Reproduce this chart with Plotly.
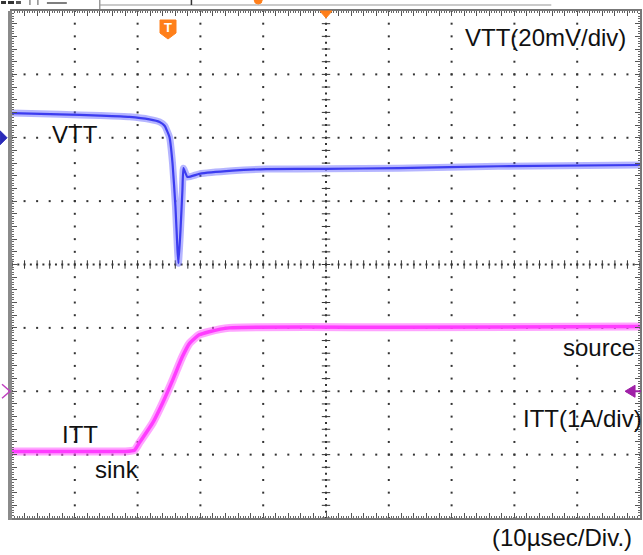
import plotly.graph_objects as go

# ---- scope settings ----
TIME_DIV_US = 10          # horizontal scale, µs per division
VTT_MV_DIV = 20           # channel 1 scale
ITT_A_DIV = 1             # channel 2 scale
VTT_OFFSET_DIV = 2        # channel 1 ground marker position (divisions)
ITT_OFFSET_DIV = -2       # channel 2 ground marker position (divisions)

# ---- captured waveforms ----
vtt_t_us = [0, 7.6, 14.0, 18.7, 21.9, 23.5, 24.3, 25.08, 25.56, 26.03, 26.35, 26.51,
            26.83, 27.14, 27.30, 27.94, 29.84, 35.08, 40.48, 50.0, 61.6, 77.5, 100.0]
vtt_mv = [7.8, 7.4, 7.0, 6.6, 5.8, 5.0, 3.8, 0.2, -8.0, -21.8, -35.4, -39.6,
          -29.2, -16.4, -9.6, -12.4, -11.4, -10.4, -9.9, -9.8, -9.6, -9.0, -8.6]

itt_t_us = [0, 10.0, 18.0, 19.5, 20.3, 22.4, 24.0, 25.6, 27.1, 28.3, 29.8, 31.4, 34.6, 60.0, 100.0]
itt_a = [-0.95, -0.95, -0.95, -0.93, -0.81, -0.50, -0.18, 0.18, 0.54, 0.76, 0.89, 0.94, 1.00, 1.01, 1.02]

vtt_div = [v / VTT_MV_DIV + VTT_OFFSET_DIV for v in vtt_mv]
itt_div = [a / ITT_A_DIV + ITT_OFFSET_DIV for a in itt_a]

N_HDIV, N_VDIV, N_SUB = 10, 8, 5
X_MAX = N_HDIV * TIME_DIV_US
Y_HALF = N_VDIV / 2

# plot area in pixels (used to place screen decorations outside the graticule)
W, H = 643, 555
ML, MR, MT, MB = 12, 1, 11, 37
PW, PH = W - ML - MR, H - MT - MB


def px(xp):
    return (xp - ML) / PW


def py(yp):
    return (H - MB - yp) / PH


def div_to_paper_y(d):
    return (d + Y_HALF) / N_VDIV


fig = go.Figure()

# ---- graticule dots ----
gx, gy = [], []
for i in range(1, N_HDIV):
    if i == N_HDIV // 2:
        continue
    for k in range(N_VDIV * N_SUB + 1):
        gx.append(i * TIME_DIV_US)
        gy.append(-Y_HALF + k / N_SUB)
for j in range(1, N_VDIV):
    if j == N_VDIV // 2:
        continue
    for k in range(N_HDIV * N_SUB + 1):
        gx.append(k * TIME_DIV_US / N_SUB)
        gy.append(-Y_HALF + j)
fig.add_trace(go.Scatter(x=gx, y=gy, mode="markers", hoverinfo="skip",
                         marker=dict(symbol="square", size=2, color="#333333", line_width=0)))

# centre cross with tick marks
cx = [X_MAX / 2] * (N_VDIV * N_SUB * 2 + 1)
cy = [-Y_HALF + k / (2 * N_SUB) for k in range(N_VDIV * N_SUB * 2 + 1)]
fig.add_trace(go.Scatter(x=cx, y=cy, mode="markers", hoverinfo="skip",
                         marker=dict(symbol="square", size=2, color="#333333", line_width=0)))
fig.add_trace(go.Scatter(x=[X_MAX / 2] * (N_VDIV * N_SUB + 1),
                         y=[-Y_HALF + k / N_SUB for k in range(N_VDIV * N_SUB + 1)],
                         mode="markers", hoverinfo="skip",
                         marker=dict(symbol="line-ew", size=6, line=dict(width=1, color="#333333"))))
hx = [k * TIME_DIV_US / (2 * N_SUB) for k in range(N_HDIV * N_SUB * 2 + 1)]
fig.add_trace(go.Scatter(x=hx, y=[0] * len(hx), mode="markers", hoverinfo="skip",
                         marker=dict(symbol="square", size=2, color="#333333", line_width=0)))
fig.add_trace(go.Scatter(x=[k * TIME_DIV_US / N_SUB for k in range(N_HDIV * N_SUB + 1)],
                         y=[0] * (N_HDIV * N_SUB + 1), mode="markers", hoverinfo="skip",
                         marker=dict(symbol="line-ns", size=6, line=dict(width=1, color="#333333"))))

# ---- waveforms (wide halo for the noise band, core line on top) ----
fig.add_trace(go.Scatter(x=vtt_t_us, y=vtt_div, mode="lines", hoverinfo="skip",
                         line=dict(color="rgba(90,90,255,0.45)", width=7, shape="spline", smoothing=0.4)))
fig.add_trace(go.Scatter(x=vtt_t_us, y=vtt_div, mode="lines", name="VTT",
                         line=dict(color="#3c3cf0", width=2.2, shape="spline", smoothing=0.4)))
fig.add_trace(go.Scatter(x=itt_t_us, y=itt_div, mode="lines", hoverinfo="skip",
                         line=dict(color="rgba(255,90,255,0.55)", width=8, shape="spline", smoothing=0.5)))
fig.add_trace(go.Scatter(x=itt_t_us, y=itt_div, mode="lines", name="ITT",
                         line=dict(color="#ff3cff", width=3.5, shape="spline", smoothing=0.5)))


def pix_path(x_paper, y_paper, path, **style):
    return dict(type="path", xref="paper", yref="paper", xsizemode="pixel", ysizemode="pixel",
                xanchor=x_paper, yanchor=y_paper, path=path, **style)


vtt_gnd = div_to_paper_y(VTT_OFFSET_DIV)
itt_gnd = div_to_paper_y(ITT_OFFSET_DIV)

shapes = [
    # left frame bar
    dict(type="rect", xref="paper", yref="paper", x0=px(8), x1=px(12), y0=py(520), y1=py(11),
         fillcolor="#8a8a8a", line_width=0),
    # channel 1 ground marker
    pix_path(px(0), vtt_gnd, "M 0,7 L 7,0 L 0,-7 Z", fillcolor="#2a2ab8", line=dict(color="#2a2ab8", width=1)),
    # channel 2 ground chevron
    pix_path(px(10), itt_gnd, "M -8,7 L 0,0 L -8,-7", line=dict(color="#c040c0", width=1.5)),
    # trigger level marker on the right edge
    pix_path(px(632), itt_gnd, "M 5,6 L -5,0 L 5,-6 Z", fillcolor="#a020a8", line=dict(color="#a020a8", width=1)),
    dict(type="line", xref="paper", yref="paper", x0=px(632), x1=px(643), y0=itt_gnd, y1=itt_gnd,
         line=dict(color="#a020a8", width=2)),
    # trigger position marker at the top
    pix_path(0.5, 1.0, "M -6,0 L 6,0 L 0,-7 Z", fillcolor="#ff7f1a", line=dict(color="#ff7f1a", width=1)),
    # trigger badge
    pix_path(px(168.5), py(29), "M -8,9 L 8,9 L 8,-4 L 0,-10 L -8,-4 Z",
             fillcolor="#ff7f1a", line=dict(color="#ff7f1a", width=1)),
    # clipped status bar along the top
    dict(type="line", xref="paper", yref="paper", x0=px(100), x1=px(553), y0=py(5), y1=py(5),
         line=dict(color="#b8b8b8", width=1.5)),
    dict(type="line", xref="paper", yref="paper", x0=px(100), x1=px(100), y0=py(0), y1=py(9),
         line=dict(color="#9a9a9a", width=1.5)),
    dict(type="rect", xref="paper", yref="paper", x0=px(1), x1=px(6), y0=py(4), y1=py(1),
         fillcolor="#333333", line_width=0),
    dict(type="rect", xref="paper", yref="paper", x0=px(8), x1=px(14), y0=py(4), y1=py(1),
         fillcolor="#333333", line_width=0),
    dict(type="rect", xref="paper", yref="paper", x0=px(16), x1=px(21), y0=py(4), y1=py(1),
         fillcolor="#555555", line_width=0),
    dict(type="line", xref="paper", yref="paper", x0=px(30), x1=px(30), y0=py(0), y1=py(5),
         line=dict(color="#555555", width=1)),
    dict(type="line", xref="paper", yref="paper", x0=px(38), x1=px(38), y0=py(0), y1=py(5),
         line=dict(color="#555555", width=1)),
    dict(type="line", xref="paper", yref="paper", x0=px(47), x1=px(67), y0=py(3), y1=py(3),
         line=dict(color="#555555", width=1.5)),
    dict(type="line", xref="paper", yref="paper", x0=px(192), x1=px(192), y0=py(0), y1=py(5),
         line=dict(color="#333333", width=1.5)),
    pix_path(px(259), py(0), "M -4,0 L 4,0 L 3,-3 L 0,-4 L -3,-3 Z",
             fillcolor="#ff7f1a", line=dict(color="#ff7f1a", width=1)),
]
fig.update_layout(shapes=shapes)

ann_font = dict(family="Liberation Sans, Arial, sans-serif", size=24, color="#111111")
annotations = [
    dict(x=px(168.5), y=py(28), text="<b>T</b>", xanchor="center",
         font=dict(family="Liberation Sans, Arial", size=13, color="white")),
    dict(x=px(630), y=py(37), text="VTT(20mV/div)", xanchor="right", font=ann_font),
    dict(x=px(75), y=py(134), text="VTT", xanchor="center", font=ann_font),
    dict(x=px(639), y=py(347), text="source", xanchor="right", font=ann_font),
    dict(x=px(646), y=py(418), text="ITT(1A/div)", xanchor="right", font=ann_font),
    dict(x=px(60), y=py(434), text="ITT", xanchor="left", font=ann_font),
    dict(x=px(93), y=py(469), text="sink", xanchor="left", font=ann_font),
    dict(x=px(636), y=py(537), text="(10µsec/Div.)", xanchor="right", font=ann_font),
]
for a in annotations:
    a.update(xref="paper", yref="paper", showarrow=False, yanchor="middle")
fig.update_layout(annotations=annotations)

axis_common = dict(showgrid=False, zeroline=False, showticklabels=False,
                   ticks="inside", ticklen=5, tickcolor="#555555", tickwidth=1,
                   showline=True, linecolor="#777777", linewidth=2, mirror="allticks")
fig.update_xaxes(range=[0, X_MAX], dtick=TIME_DIV_US / N_SUB, tick0=0,
                 minor=dict(dtick=TIME_DIV_US / N_SUB / 5, ticks="inside", ticklen=2, tickcolor="#666666"),
                 **axis_common)
fig.update_yaxes(range=[-Y_HALF, Y_HALF], dtick=1 / N_SUB, tick0=0,
                 minor=dict(dtick=1 / N_SUB / 5, ticks="inside", ticklen=2, tickcolor="#666666"),
                 **axis_common)

fig.update_layout(width=W, height=H, margin=dict(l=ML, r=MR, t=MT, b=MB),
                  paper_bgcolor="white", plot_bgcolor="white", showlegend=False)

fig.write_html("out.html")
